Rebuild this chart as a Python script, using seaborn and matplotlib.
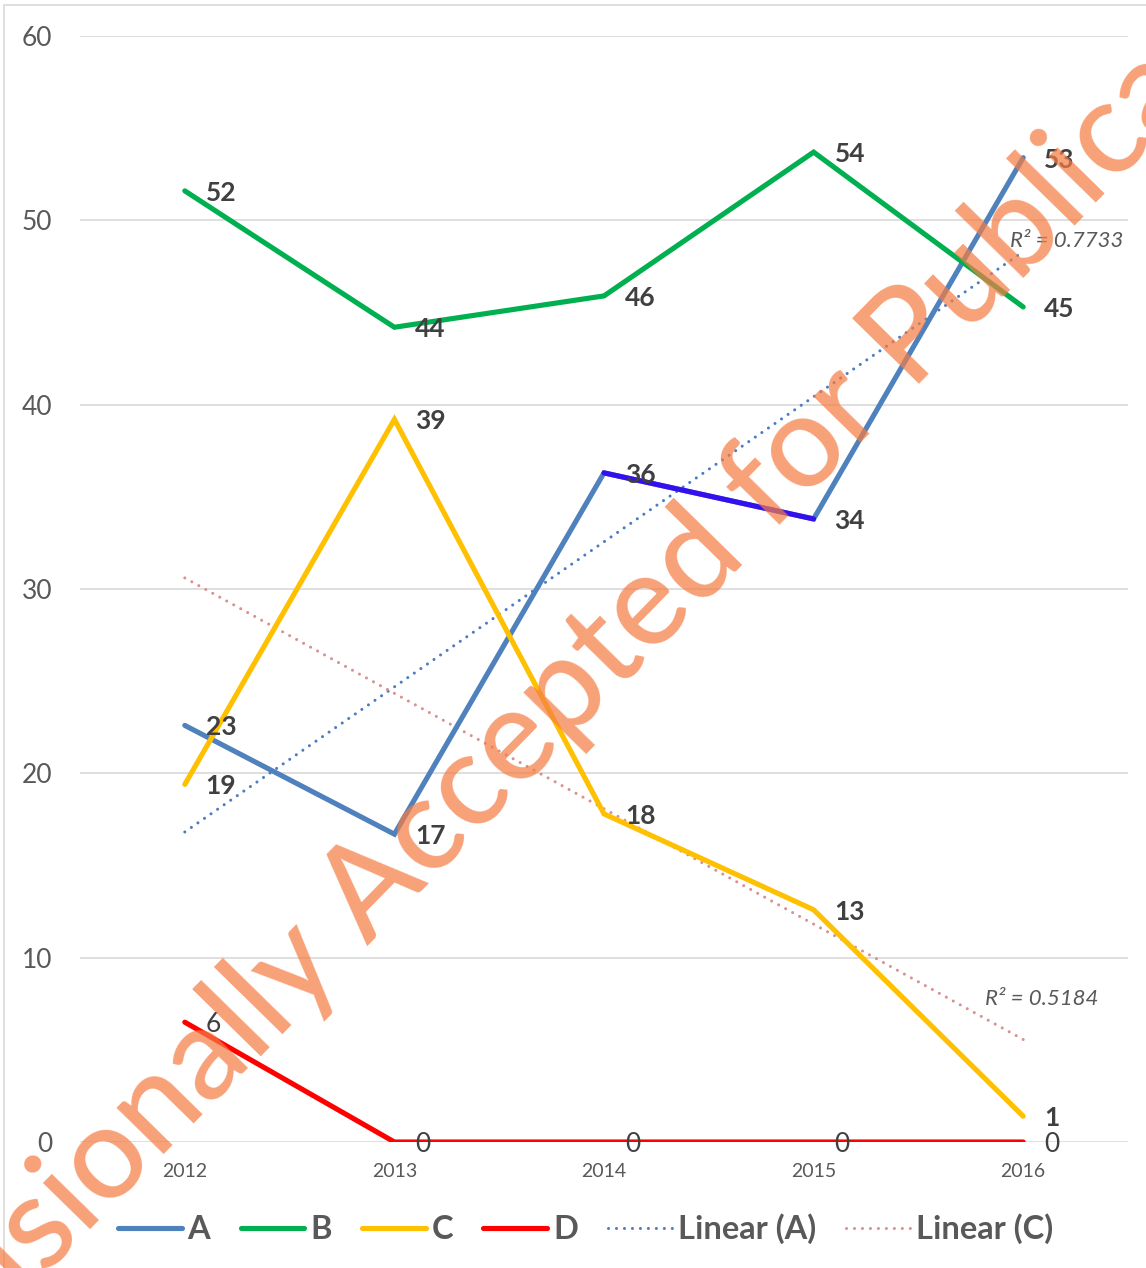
import numpy as np
import pandas as pd
import seaborn as sns
import matplotlib
matplotlib.use("Agg")
import matplotlib.pyplot as plt
from matplotlib.lines import Line2D
from matplotlib.patches import Rectangle
from matplotlib.font_manager import FontProperties
from matplotlib.textpath import TextToPath

# ---- data ----
years = [2012, 2013, 2014, 2015, 2016]
series_a = [22.6, 16.7, 36.3, 33.8, 53.4]
series_b = [51.6, 44.2, 45.9, 53.7, 45.3]
series_c = [19.4, 39.2, 17.8, 12.6, 1.4]
series_d = [6.5, 0.0, 0.0, 0.0, 0.0]
labels_a = ["23", "17", "36", "34", "53"]
labels_b = ["52", "44", "46", "54", "45"]
labels_c = ["19", "39", "18", "13", "1"]
labels_d = ["6", "0", "0", "0", "0"]
r2_a = "R² = 0.7733"
r2_c = "R² = 0.5184"
yticks = [0, 10, 20, 30, 40, 50, 60]
legend_names = ["A", "B", "C", "D", "Linear (A)", "Linear (C)"]
watermark = "Provisionally Accepted for Publication"

colors = {"A": "#4F81BD", "B": "#00B050", "C": "#FFC000", "D": "#FF0000"}
seg_color = "#3410EE"
trend_a_color = "#4A7CC4"
trend_c_color = "#DA9090"

sns.set_theme(style="white")
plt.rcParams["font.family"] = ["Lato", "DejaVu Sans"]

df = pd.DataFrame({
    "year": years * 4,
    "value": series_a + series_b + series_c + series_d,
    "series": ["A"] * 5 + ["B"] * 5 + ["C"] * 5 + ["D"] * 5,
})

W, H = 1146, 1268
fig = plt.figure(figsize=(W / 100, H / 100), dpi=100)
ax = fig.add_axes([80 / W, (H - 1142) / H, 1048 / W, 1106 / H])

ax.set_xlim(2011.5, 2016.5)
ax.set_ylim(0, 60)
for y in yticks:
    ax.axhline(y, color="#D9D9D9", lw=1.2, zorder=0)

# trendlines
dot = (0, (0.01, 2.6))
sns.regplot(x=years, y=series_a, ax=ax, scatter=False, ci=None, truncate=True,
            line_kws=dict(color=trend_a_color, lw=2.2, linestyle=dot,
                          dash_capstyle="round", zorder=2))
sns.regplot(x=years, y=series_c, ax=ax, scatter=False, ci=None, truncate=True,
            line_kws=dict(color=trend_c_color, lw=2.2, linestyle=dot,
                          dash_capstyle="round", zorder=2))

sns.lineplot(data=df, x="year", y="value", hue="series", palette=colors,
             lw=3.7, ax=ax, legend=False, zorder=3,
             solid_capstyle="round", solid_joinstyle="miter")
seg = pd.DataFrame({"year": years[2:4], "value": series_a[2:4]})
sns.lineplot(data=seg, x="year", y="value", color=seg_color, lw=3.7, ax=ax,
             legend=False, zorder=3.5, solid_capstyle="round")

# data labels
lab_col = "#404040"
for vals, labs, bold in [(series_a, labels_a, True), (series_b, labels_b, True),
                         (series_c, labels_c, True), (series_d, labels_d, False)]:
    for x, v, t in zip(years, vals, labs):
        ax.annotate(t, (x, v), xytext=(15, -1.5), textcoords="offset points",
                    ha="left", va="center", fontsize=19, color=lab_col,
                    fontweight="bold" if bold else "normal", zorder=5)

ax.text(2015.937, 48.9, r2_a, fontsize=16, style="italic", color="#595959",
        ha="left", va="center", zorder=5)
ax.text(2015.818, 7.76, r2_c, fontsize=16, style="italic", color="#595959",
        ha="left", va="center", zorder=5)

ax.set_xticks(years)
ax.set_xticklabels([str(y) for y in years], fontsize=14, color="#595959")
ax.set_yticks(yticks)
ax.set_yticklabels([str(y) for y in yticks], fontsize=19, color="#595959")
ax.tick_params(axis="y", length=0, pad=20)
ax.tick_params(axis="x", length=0, pad=15)
ax.set_xlabel("")
ax.set_ylabel("")
for s in ax.spines.values():
    s.set_visible(False)

handles = [
    Line2D([], [], color=colors["A"], lw=3.7, solid_capstyle="round"),
    Line2D([], [], color=colors["B"], lw=3.7, solid_capstyle="round"),
    Line2D([], [], color=colors["C"], lw=3.7, solid_capstyle="round"),
    Line2D([], [], color=colors["D"], lw=3.7, solid_capstyle="round"),
    Line2D([], [], color=trend_a_color, lw=2.2, linestyle=dot, dash_capstyle="round"),
    Line2D([], [], color=trend_c_color, lw=2.2, linestyle=dot, dash_capstyle="round"),
]
leg = fig.legend(handles, legend_names, loc="center", bbox_to_anchor=(0.511, (H - 1229) / H),
                 ncol=6, frameon=False, fontsize=23.5, handlelength=1.95,
                 handletextpad=0.18, columnspacing=0.93)
for t in leg.get_texts():
    t.set_color("#595959")
    t.set_fontweight("bold")

# chart border (partly outside the picture)
fig.add_artist(Rectangle((4 / W, -0.1), 1.2, (H - 5) / H + 0.1, transform=fig.transFigure,
                         fill=False, edgecolor="#D9D9D9", lw=1.2))

# watermark: size and placement so that "A" of Accepted and "P" of Publication
# land roughly where they sit in the reference
wm_weight = "medium"
fp = FontProperties(family="Lato", weight=wm_weight, size=100)
ttp = TextToPath()
def width_px(s, size):
    w, h, d = ttp.get_text_width_height_descent(s, fp, ismath=False)
    return w * size / 100 * 100 / 72
foot_a = np.array([383.0, 930.0])
foot_p = np.array([913.0, 389.0])
dist = np.hypot(*(foot_p - foot_a))
ang = np.degrees(np.arctan2(foot_a[1] - foot_p[1], foot_p[0] - foot_a[0]))
th = np.radians(ang)
direction = np.array([np.cos(th), -np.sin(th)])
adv100 = width_px("Accepted for P", 100) - width_px("P", 100)
wm_size = 100 * dist / adv100 * 1.025
foot_a = foot_a - 22 * direction
pre = width_px("Provisionally A", wm_size) - width_px("A", wm_size)
start = foot_a - pre * direction
fig.text(start[0] / W, 1 - start[1] / H, watermark, rotation=ang, ha="left",
         va="baseline", fontsize=wm_size, color="#F47D44", alpha=0.72, zorder=10,
         fontweight=wm_weight, rotation_mode="anchor")

fig.savefig("out.png", dpi=100)
